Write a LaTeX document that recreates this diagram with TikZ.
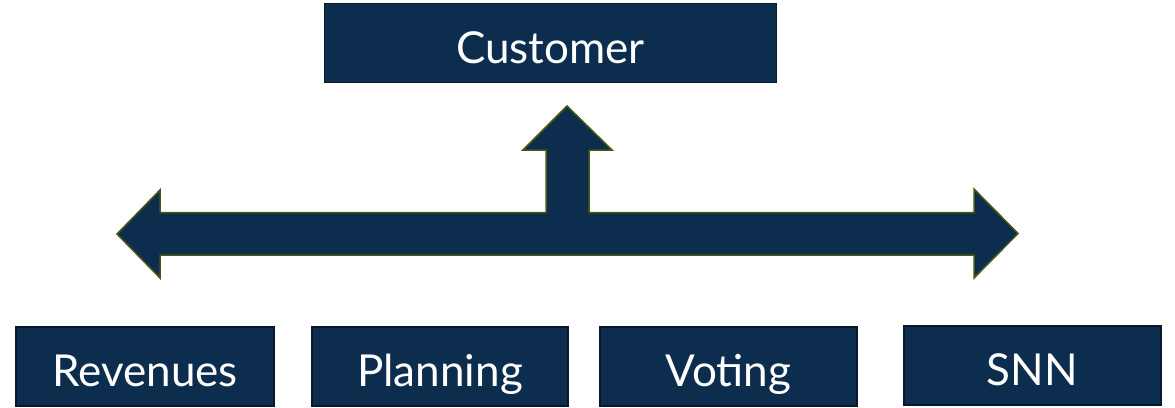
\documentclass[tikz,border=0pt]{standalone}
\usepackage{fontspec}
\setmainfont{Lato}
\definecolor{boxfill}{RGB}{12,45,78}
\definecolor{boxline}{RGB}{8,24,42}
\definecolor{arrline}{RGB}{72,88,16}
\begin{document}
\begin{tikzpicture}[x=1pt,y=-1pt,
  box/.style={draw=boxline,line width=1.5pt,fill=boxfill,text=white,inner sep=0pt,
    text height=40pt,text depth=0pt,
    font=\fontsize{44}{48}\selectfont},
  bigarrow/.style={draw=arrline,fill=boxfill,line width=1.5pt,line join=miter}]
\useasboundingbox (0,0) rectangle (1175,407);
\node[box,minimum width=452pt,minimum height=79pt] (customer) at (550.5,43) {Customer};
\node[box,minimum width=258pt,minimum height=79pt] (revenues) at (145,366.5) {Revenues};
\node[box,minimum width=256pt,minimum height=79pt] (planning) at (440,366.5) {Planning};
\node[box,minimum width=257pt,minimum height=79pt] (voting) at (728.5,366.5) {Voting};
\node[box,minimum width=257pt,minimum height=79pt] (snn) at (1032.5,365.5) {SNN};
\draw[bigarrow] (117,234) -- (160,190) -- (160,212.5) -- (546,212.5) -- (546,150)
  -- (523,150) -- (567,106) -- (612,150) -- (589,150) -- (589,212.5) -- (974,212.5)
  -- (974,189) -- (1018,233.5) -- (974,278) -- (974,255) -- (160,255) -- (160,278) -- cycle;
\end{tikzpicture}
\end{document}
